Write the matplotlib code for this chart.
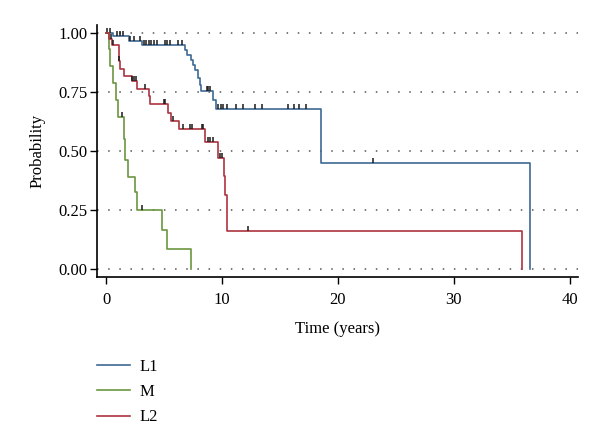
import matplotlib
matplotlib.use("Agg")
from matplotlib import pyplot as plt

plt.rcParams['font.family'] = ['Liberation Serif', 'DejaVu Serif']

# Kaplan-Meier steps: (time, survival after the step)
l1_time = [0, 0.6, 2.0, 3.1, 6.8, 7.0, 7.3, 7.5, 7.7, 7.9, 8.1, 8.2, 9.25, 9.5, 18.5, 36.6]
l1_surv = [1.0, 0.986, 0.966, 0.946, 0.925, 0.905, 0.885, 0.865, 0.84, 0.81, 0.78, 0.755,
           0.715, 0.677, 0.45, 0.0]
l1_cens_t = [0.1, 0.3, 0.9, 1.15, 1.44, 2.07, 2.35, 2.87, 3.28, 3.45, 3.65, 3.85, 4.08,
             4.37, 5.09, 5.23, 5.46, 6.23, 6.52, 8.68, 8.82, 8.97, 9.68, 9.88, 10.1, 10.4,
             11.2, 11.8, 12.8, 13.4, 15.7, 16.2, 16.6, 17.2, 23.0]

m_time = [0, 0.2, 0.35, 0.6, 0.8, 1.0, 1.5, 1.65, 1.85, 2.45, 2.65, 4.8, 5.2, 7.3]
m_surv = [1.0, 0.929, 0.857, 0.786, 0.714, 0.643, 0.55, 0.46, 0.39, 0.325, 0.25,
          0.167, 0.083, 0.0]
m_cens_t = [1.35, 3.07]

l2_time = [0, 0.25, 0.45, 1.06, 1.2, 1.5, 2.2, 2.65, 3.65, 3.8, 5.37, 5.6, 6.3, 8.53,
           9.68, 10.15, 10.25, 10.45, 35.9]
l2_surv = [1.0, 0.975, 0.946, 0.88, 0.847, 0.818, 0.797, 0.762, 0.733, 0.698, 0.66,
           0.627, 0.591, 0.537, 0.471, 0.393, 0.315, 0.159, 0.0]
l2_cens_t = [0.4, 0.55, 1.1, 2.2, 2.35, 2.6, 3.3, 5.0, 5.1, 5.8, 6.6, 7.24, 7.39, 8.25,
             8.39, 8.82, 8.97, 9.2, 9.85, 10.0, 12.27]

labels = ['L1', 'M', 'L2']
colors = ['#3d6a94', '#6b9640', '#ad3440']

x_ticks = [0, 10, 20, 30, 40]
y_ticks = [0, 0.25, 0.5, 0.75, 1.0]
y_tick_labels = ['0.00', '0.25', '0.50', '0.75', '1.00']


def surv_at(times, survs, t):
    s = survs[0]
    for tt, ss in zip(times, survs):
        if tt <= t:
            s = ss
    return s


fig = plt.figure(figsize=(6, 4.48), dpi=100)
ax = fig.add_axes([0.1617, 0.3817, 0.8013, 0.5633])

for y in y_ticks:
    ax.axhline(y, color='#555555', linestyle=(0, (1, 6.3)), linewidth=1.1, zorder=0)

series = [(l1_time, l1_surv, l1_cens_t), (m_time, m_surv, m_cens_t),
          (l2_time, l2_surv, l2_cens_t)]
handles = []
for (t, s, c), lab, col in zip(series, labels, colors):
    h, = ax.step(t, s, where='post', color=col, linewidth=1.2, label=lab)
    handles.append(h)
    cs = [surv_at(t, s, ct) for ct in c]
    ax.plot(c, cs, linestyle='none', marker=[(0, 0), (0, 1)], markersize=7,
            markeredgewidth=1.1, color='#1a1a1a')

ax.set_xlim(-0.8, 40.7)
ax.set_ylim(-0.034, 1.034)
ax.set_xticks(x_ticks)
ax.set_yticks(y_ticks)
ax.set_yticklabels(y_tick_labels)
ax.tick_params(direction='out', length=5, width=1, labelsize=12, color='black')
ax.tick_params(axis='x', pad=6)
ax.tick_params(axis='y', pad=2)
for side in ['top', 'right']:
    ax.spines[side].set_visible(False)
for side in ['left', 'bottom']:
    ax.spines[side].set_linewidth(1.2)
ax.set_xlabel('Time (years)', fontsize=12, labelpad=9)
ax.set_ylabel('Probability', fontsize=12, labelpad=9)

fig.legend(handles=handles, labels=labels, loc='upper left',
           bbox_to_anchor=(0.136, 0.232), frameon=False, fontsize=12,
           handlelength=2.0, labelspacing=0.55, handletextpad=0.6)

fig.savefig('out.png', dpi=100)
